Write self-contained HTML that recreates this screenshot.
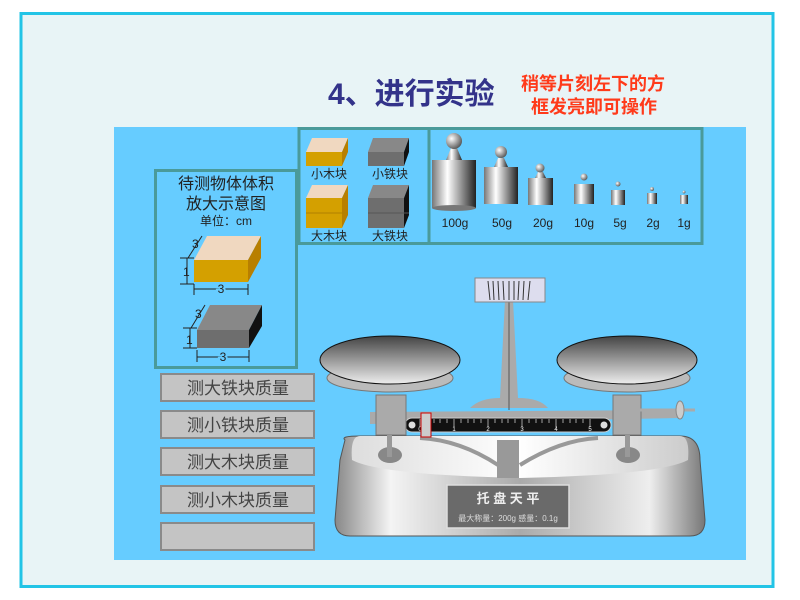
<!DOCTYPE html>
<html><head><meta charset="utf-8"><style>
html,body{margin:0;padding:0;background:#fff;width:800px;height:600px;overflow:hidden}
svg{display:block}
text{font-family:"Liberation Sans","Noto Sans CJK SC",sans-serif}
</style></head><body>
<svg width="800" height="600" viewBox="0 0 800 600" xmlns="http://www.w3.org/2000/svg">
<defs>
<linearGradient id="cyl" x1="0" x2="1" y1="0" y2="0">
<stop offset="0" stop-color="#777"/><stop offset="0.35" stop-color="#fff"/><stop offset="0.7" stop-color="#888"/><stop offset="1" stop-color="#222"/></linearGradient>
<radialGradient id="ball" cx="0.35" cy="0.35" r="0.7"><stop offset="0" stop-color="#fff"/><stop offset="1" stop-color="#555"/></radialGradient>
<linearGradient id="pan" x1="0" x2="0" y1="0" y2="1"><stop offset="0" stop-color="#444"/><stop offset="1" stop-color="#eee"/></linearGradient>
<linearGradient id="base" x1="0" x2="1" y1="0" y2="0"><stop offset="0" stop-color="#888"/><stop offset="0.15" stop-color="#f4f4f4"/><stop offset="0.5" stop-color="#aaa"/><stop offset="0.85" stop-color="#eee"/><stop offset="1" stop-color="#777"/></linearGradient>
<linearGradient id="basetop" x1="0" x2="1" y1="0" y2="0"><stop offset="0" stop-color="#ddd"/><stop offset="0.5" stop-color="#fff"/><stop offset="1" stop-color="#ccc"/></linearGradient>
</defs>
<rect x="0" y="0" width="800" height="600" fill="#fff"/>
<rect x="21" y="13.5" width="752" height="573" fill="#e8f4f6" stroke="#22c4e6" stroke-width="3"/>
<text x="328" y="104" font-size="30" font-weight="bold" fill="#33338a">4、进行实验</text>
<text x="521" y="90" font-size="18" font-weight="bold" fill="#ff3a1a">稍等片刻左下的方</text>
<text x="531" y="113" font-size="18" font-weight="bold" fill="#ff3a1a">框发亮即可操作</text>
<rect x="114" y="127" width="632" height="433" fill="#66ccff"/>
<rect x="155.5" y="170.5" width="141" height="197" fill="none" stroke="#4a9a9a" stroke-width="3"/>
<text x="226" y="189" font-size="16" fill="#222" text-anchor="middle">待测物体体积</text>
<text x="226" y="209" font-size="16" fill="#222" text-anchor="middle">放大示意图</text>
<text x="226" y="225" font-size="12" fill="#222" text-anchor="middle">单位：cm</text>
<polygon points="194,260 207,236 261,236 248,260" fill="#f0d8c0"/>
<polygon points="248,260 261,236 261,258 248,282" fill="#b87f00"/>
<rect x="194" y="260" width="54" height="22" fill="#d4a000"/>
<polygon points="197,330 210,305 262,305 249,330" fill="#888"/>
<polygon points="249,330 262,305 262,326 249,348" fill="#111"/>
<rect x="197" y="330" width="52" height="18" fill="#6e6e6e"/>
<g stroke="#222" stroke-width="1" fill="none">
<line x1="180" y1="258" x2="194" y2="258"/><line x1="180" y1="284" x2="194" y2="284"/><line x1="187" y1="258" x2="187" y2="284"/>
<line x1="194" y1="284" x2="194" y2="295"/><line x1="248" y1="284" x2="248" y2="295"/><line x1="194" y1="289" x2="248" y2="289"/>
<line x1="188" y1="258" x2="202" y2="236"/>
<line x1="183" y1="328" x2="197" y2="328"/><line x1="183" y1="348" x2="197" y2="348"/><line x1="190" y1="328" x2="190" y2="348"/>
<line x1="197" y1="350" x2="197" y2="362"/><line x1="249" y1="350" x2="249" y2="362"/><line x1="197" y1="357" x2="249" y2="357"/>
<line x1="191" y1="328" x2="205" y2="305"/>
</g>
<text x="183" y="276" font-size="12" fill="#222">1</text>
<text x="192" y="248" font-size="12" fill="#222">3</text>
<text x="221" y="293" font-size="12" fill="#222" text-anchor="middle" style="paint-order:stroke" stroke="#66ccff" stroke-width="4">3</text>
<text x="186" y="344" font-size="12" fill="#222">1</text>
<text x="195" y="318" font-size="12" fill="#222">3</text>
<text x="223" y="361" font-size="12" fill="#222" text-anchor="middle" style="paint-order:stroke" stroke="#66ccff" stroke-width="4">3</text>
<rect x="299" y="128.5" width="130" height="115" fill="none" stroke="#4a9a9a" stroke-width="3"/>
<rect x="429" y="128.5" width="273" height="115" fill="none" stroke="#4a9a9a" stroke-width="3"/>
<polygon points="306,152 312,138 348,138 342,152" fill="#f0d8c0"/><polygon points="342,152 348,138 348,152 342,166" fill="#b87f00"/><rect x="306" y="152" width="36" height="14" fill="#d4a000"/>
<polygon points="368,152 373,138 409,138 404,152" fill="#888"/><polygon points="404,152 409,138 409,152 404,166" fill="#111"/><rect x="368" y="152" width="36" height="14" fill="#6e6e6e"/>
<text x="329" y="178" font-size="12" fill="#222" text-anchor="middle">小木块</text>
<text x="390" y="178" font-size="12" fill="#222" text-anchor="middle">小铁块</text>
<polygon points="306,198 312,185 348,185 342,198" fill="#f0d8c0"/><polygon points="342,198 348,185 348,215 342,228" fill="#b87f00"/><rect x="306" y="198" width="36" height="30" fill="#d4a000"/><line x1="306" y1="213" x2="348" y2="213" stroke="#b08000"/>
<polygon points="368,198 373,185 409,185 404,198" fill="#888"/><polygon points="404,198 409,185 409,215 404,228" fill="#111"/><rect x="368" y="198" width="36" height="30" fill="#6e6e6e"/><line x1="368" y1="213" x2="409" y2="213" stroke="#555"/>
<text x="329" y="240" font-size="12" fill="#222" text-anchor="middle">大木块</text>
<text x="390" y="240" font-size="12" fill="#222" text-anchor="middle">大铁块</text>
<g>
<rect x="432" y="160" width="44" height="48" fill="url(#cyl)"/><ellipse cx="454" cy="208" rx="22" ry="3" fill="#777"/><polygon points="446,160 451,148 457,148 462,160" fill="url(#cyl)"/><circle cx="454" cy="141" r="8" fill="url(#ball)"/>
<rect x="484" y="167" width="34" height="37" fill="url(#cyl)"/><polygon points="494,167 498,158 504,158 508,167" fill="url(#cyl)"/><circle cx="501" cy="152" r="6" fill="url(#ball)"/>
<rect x="528" y="178" width="25" height="27" fill="url(#cyl)"/><polygon points="535,178 538,172 543,172 546,178" fill="url(#cyl)"/><circle cx="540" cy="168" r="4.5" fill="url(#ball)"/>
<rect x="574" y="184" width="20" height="20" fill="url(#cyl)"/><circle cx="584" cy="177" r="3.5" fill="url(#ball)"/>
<rect x="611" y="190" width="14" height="15" fill="url(#cyl)"/><circle cx="618" cy="184" r="2.5" fill="url(#ball)"/>
<rect x="647" y="193" width="10" height="11" fill="url(#cyl)"/><circle cx="652" cy="189" r="2" fill="url(#ball)"/>
<rect x="680" y="195" width="8" height="9" fill="url(#cyl)"/><circle cx="684" cy="192" r="1.5" fill="url(#ball)"/>
</g>
<g font-size="12" fill="#222" text-anchor="middle">
<text x="455" y="227">100g</text><text x="502" y="227">50g</text><text x="543" y="227">20g</text><text x="584" y="227">10g</text><text x="620" y="227">5g</text><text x="653" y="227">2g</text><text x="684" y="227">1g</text></g>
<g fill="#c4c4c4" stroke="#8a8a8a" stroke-width="2">
<rect x="161" y="374" width="153" height="27"/><rect x="161" y="411" width="153" height="27"/><rect x="161" y="448" width="153" height="27"/><rect x="161" y="486" width="153" height="27"/><rect x="161" y="523" width="153" height="27"/></g>
<g font-size="17" fill="#444" text-anchor="middle">
<text x="238" y="394">测大铁块质量</text><text x="238" y="431">测小铁块质量</text><text x="238" y="468">测大木块质量</text><text x="238" y="506">测小木块质量</text></g>
<path d="M345,440 Q340,436 360,436 L680,436 Q700,436 700,460 L705,520 Q705,536 690,536 L350,536 Q335,536 335,520 L340,460 Z" fill="url(#base)" stroke="#555"/>
<path d="M360,436 L680,436 Q690,436 688,460 Q660,475 520,478 Q380,475 352,460 Q350,436 360,436Z" fill="url(#basetop)"/>
<rect x="447" y="485" width="122" height="43" fill="#6a6a6a" stroke="#ddd" stroke-width="1.5"/>
<text x="508" y="503" font-size="13" fill="#eee" text-anchor="middle" font-family="Noto Serif CJK SC,serif" font-weight="bold">托 盘 天 平</text>
<text x="508" y="521" font-size="8" fill="#ddd" text-anchor="middle">最大称量：200g  感量：0.1g</text>
<rect x="497" y="440" width="22" height="38" fill="#999"/>
<path d="M420,438 Q460,440 498,465 M598,438 Q560,440 520,465" stroke="#999" stroke-width="4" fill="none"/>
<path d="M370,412 L680,410 L680,418 L370,424Z" fill="#aaa"/>
<path d="M470,408 Q480,398 500,398 L505,300 L513,300 L518,398 Q540,398 548,408 Z" fill="#aaa"/>
<line x1="509" y1="300" x2="509" y2="410" stroke="#555"/>
<path d="M475,278 L545,278 L545,302 L475,302Z" fill="#dde" stroke="#888"/>
<g stroke="#333" stroke-width="1"><line x1="488" y1="281" x2="490" y2="300"/><line x1="493" y1="281" x2="494" y2="300"/><line x1="498" y1="281" x2="499" y2="300"/><line x1="503" y1="281" x2="504" y2="300"/><line x1="509" y1="281" x2="509" y2="300"/><line x1="514" y1="281" x2="514" y2="300"/><line x1="519" y1="281" x2="518" y2="300"/><line x1="524" y1="281" x2="523" y2="300"/><line x1="530" y1="281" x2="528" y2="300"/></g>
<rect x="405" y="418" width="206" height="14" rx="7" fill="#111" stroke="#ccc"/>
<g stroke="#fff" stroke-width="0.6">
<line x1="420" y1="419" x2="420" y2="427"/><line x1="454" y1="419" x2="454" y2="427"/><line x1="488" y1="419" x2="488" y2="427"/><line x1="522" y1="419" x2="522" y2="427"/><line x1="556" y1="419" x2="556" y2="427"/><line x1="590" y1="419" x2="590" y2="427"/>
<path d="M427,419v4M434,419v4M440,419v4M447,419v4M461,419v4M468,419v4M474,419v4M481,419v4M495,419v4M502,419v4M508,419v4M515,419v4M529,419v4M536,419v4M542,419v4M549,419v4M563,419v4M570,419v4M576,419v4M583,419v4"/></g>
<g font-size="6" fill="#fff" text-anchor="middle"><text x="420" y="431">0</text><text x="454" y="431">1</text><text x="488" y="431">2</text><text x="522" y="431">3</text><text x="556" y="431">4</text><text x="590" y="431">5</text></g>
<circle cx="412" cy="425" r="3.5" fill="#ddd"/><circle cx="604" cy="425" r="3.5" fill="#ddd"/>
<rect x="421" y="413" width="10" height="24" fill="#ccc" stroke="#c00" stroke-width="1"/>
<rect x="376" y="395" width="30" height="40" fill="#aaa" stroke="#777"/>
<rect x="613" y="395" width="28" height="40" fill="#aaa" stroke="#777"/>
<ellipse cx="390" cy="455" rx="12" ry="8" fill="#888"/><ellipse cx="628" cy="455" rx="12" ry="8" fill="#888"/>
<rect x="387" y="435" width="5" height="22" fill="#999"/><rect x="625" y="435" width="5" height="22" fill="#999"/>
<line x1="640" y1="410" x2="695" y2="410" stroke="#aaa" stroke-width="3"/>
<ellipse cx="680" cy="410" rx="4" ry="9" fill="#ccc" stroke="#888"/>
<ellipse cx="390" cy="378" rx="63" ry="14" fill="#bbb" stroke="#777"/>
<ellipse cx="627" cy="378" rx="63" ry="14" fill="#bbb" stroke="#777"/>
<ellipse cx="390" cy="360" rx="70" ry="24" fill="url(#pan)" stroke="#111"/>
<ellipse cx="627" cy="360" rx="70" ry="24" fill="url(#pan)" stroke="#111"/>
</svg>
</body></html>
